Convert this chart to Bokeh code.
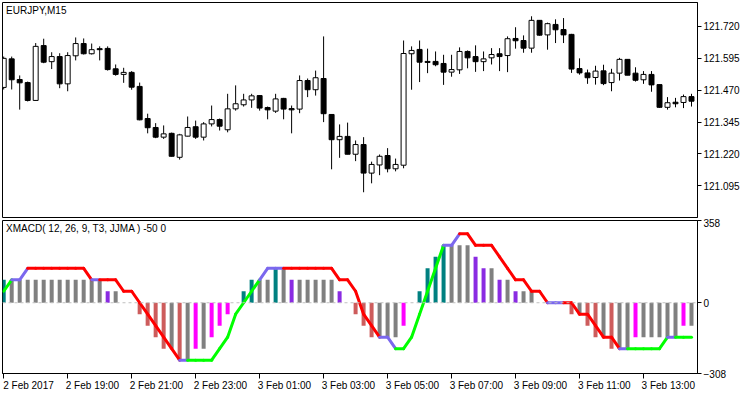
from bokeh.plotting import figure
from bokeh.models import (Range1d, FixedTicker, Label, Span, ColumnDataSource,
                          PrintfTickFormatter, LinearAxis)
from bokeh.layouts import column
from bokeh.embed import file_html
from bokeh.resources import INLINE

symbol = "EURJPY,M15"
indicator = "XMACD( 12, 26, 9, T3, JJMA ) -50 0"

open_ = [121.481, 121.593, 121.512, 121.500, 121.430, 121.645, 121.582, 121.602, 121.495, 121.605,
         121.653, 121.613, 121.633, 121.634, 121.554, 121.532, 121.540, 121.485, 121.359, 121.324,
         121.286, 121.301, 121.207, 121.290, 121.327, 121.286, 121.338, 121.355, 121.315, 121.397,
         121.413, 121.432, 121.449, 121.402, 121.388, 121.438, 121.398, 121.396, 121.508, 121.472,
         121.516, 121.375, 121.276, 121.289, 121.219, 121.257, 121.145, 121.177, 121.214, 121.162,
         121.176, 121.613, 121.630, 121.583, 121.583, 121.575, 121.541, 121.550, 121.622, 121.602,
         121.582, 121.597, 121.613, 121.606, 121.673, 121.665, 121.635, 121.744, 121.687, 121.728,
         121.708, 121.689, 121.555, 121.538, 121.520, 121.546, 121.500, 121.537, 121.591, 121.537,
         121.511, 121.532, 121.492, 121.403, 121.423, 121.422, 121.445]
high = [121.602, 121.602, 121.528, 121.504, 121.655, 121.672, 121.619, 121.615, 121.619, 121.677,
        121.673, 121.653, 121.642, 121.642, 121.571, 121.558, 121.545, 121.500, 121.378, 121.341,
        121.332, 121.304, 121.299, 121.367, 121.351, 121.345, 121.410, 121.359, 121.456, 121.489,
        121.456, 121.456, 121.451, 121.406, 121.456, 121.440, 121.410, 121.528, 121.516, 121.547,
        121.681, 121.375, 121.336, 121.343, 121.273, 121.286, 121.190, 121.218, 121.243, 121.202,
        121.665, 121.642, 121.665, 121.633, 121.622, 121.609, 121.609, 121.638, 121.626, 121.646,
        121.622, 121.635, 121.635, 121.681, 121.717, 121.685, 121.760, 121.744, 121.735, 121.748,
        121.753, 121.691, 121.595, 121.551, 121.566, 121.570, 121.554, 121.597, 121.591, 121.560,
        121.545, 121.545, 121.492, 121.443, 121.440, 121.453, 121.456]
low = [121.473, 121.473, 121.394, 121.426, 121.428, 121.576, 121.553, 121.478, 121.466, 121.587,
       121.610, 121.610, 121.587, 121.547, 121.527, 121.499, 121.472, 121.352, 121.301, 121.282,
       121.279, 121.210, 121.198, 121.289, 121.279, 121.273, 121.328, 121.312, 121.305, 121.390,
       121.406, 121.401, 121.390, 121.356, 121.381, 121.356, 121.301, 121.380, 121.443, 121.449,
       121.345, 121.160, 121.205, 121.219, 121.192, 121.070, 121.105, 121.137, 121.148, 121.152,
       121.164, 121.472, 121.502, 121.537, 121.564, 121.491, 121.523, 121.534, 121.556, 121.542,
       121.545, 121.571, 121.545, 121.541, 121.633, 121.617, 121.617, 121.684, 121.629, 121.655,
       121.655, 121.538, 121.531, 121.495, 121.492, 121.490, 121.466, 121.508, 121.529, 121.504,
       121.495, 121.464, 121.401, 121.394, 121.403, 121.400, 121.406]
close = [121.595, 121.511, 121.499, 121.430, 121.642, 121.580, 121.602, 121.495, 121.606, 121.653,
         121.613, 121.629, 121.629, 121.551, 121.532, 121.540, 121.482, 121.354, 121.323, 121.286,
         121.299, 121.211, 121.295, 121.324, 121.286, 121.338, 121.355, 121.329, 121.397, 121.417,
         121.432, 121.448, 121.400, 121.393, 121.436, 121.396, 121.393, 121.508, 121.472, 121.519,
         121.378, 121.276, 121.289, 121.219, 121.257, 121.145, 121.179, 121.211, 121.162, 121.179,
         121.614, 121.626, 121.580, 121.579, 121.570, 121.541, 121.551, 121.622, 121.597, 121.582,
         121.593, 121.610, 121.602, 121.672, 121.664, 121.635, 121.744, 121.686, 121.731, 121.707,
         121.687, 121.553, 121.538, 121.519, 121.545, 121.496, 121.537, 121.591, 121.529, 121.509,
         121.532, 121.491, 121.403, 121.421, 121.417, 121.445, 121.427]

hist = [100, 100, 100, 100, 100, 100, 100, 100, 100, 100,
        100, 100, 100, 50, 50, 0, 0, -50, -100, -150,
        -200, -200, -250, -250, -200, -200, -150, -100, -50, 0,
        50, 100, 100, 100, 150, 150, 100, 100, 100, 100,
        100, 100, 50, 0, -50, -100, -150, -150, -150, -150,
        -100, 0, 50, 150, 200, 250, 250, 250, 250, 200,
        150, 150, 100, 100, 50, 50, 50, 0, 0, 0,
        0, -50, -50, -100, -150, -150, -200, -200, -200, -150,
        -150, -150, -150, -150, -150, -100, -100]
signal = [50, 100, 100, 150, 150, 150, 150, 150, 150, 150,
          150, 100, 100, 100, 100, 50, 50, 0, -50, -100,
          -150, -200, -250, -250, -250, -250, -250, -200, -150, -50,
          0, 50, 100, 150, 150, 150, 150, 150, 150, 150,
          150, 150, 100, 100, 50, -50, -100, -150, -150, -200,
          -200, -150, -50, 50, 150, 250, 250, 300, 300, 250,
          250, 250, 200, 150, 100, 100, 50, 50, 0, 0,
          0, 0, -50, -50, -100, -150, -150, -200, -200, -200,
          -200, -200, -200, -150, -150, -150, -150]
# state of each signal segment (bar i-1 -> bar i): u = up, d = down, n = neutral
signal_state = list("unn" "dddddddd" "n" "dddddddddd" "n" "uuuuuuuuu" "nnn" "dddddddddddd"
                    "nn" "uuuuuu" "nn" "ddddddddddd" "nn" "ddddddd" "n" "uuuuu" "n" "uu")

time_ticks = [0, 8, 16, 24, 32, 40, 48, 56, 64, 72, 80]
time_labels = ["2 Feb 2017", "2 Feb 19:00", "2 Feb 21:00", "2 Feb 23:00", "3 Feb 01:00",
               "3 Feb 03:00", "3 Feb 05:00", "3 Feb 07:00", "3 Feb 09:00", "3 Feb 11:00",
               "3 Feb 13:00"]
price_ticks = [121.095, 121.220, 121.345, 121.470, 121.595, 121.720]
osc_ticks = [-308, 0, 358]

FONT = "Liberation Sans"
FS = "10px"
W = 750
X0, X1 = -0.15, 86.75
LABEL_SHIFT = 3.1  # half a time label, in bars: labels start at their tick

n = len(open_)
idx = list(range(n))

x_range = Range1d(X0, X1)


def style_axis(ax):
    ax.axis_line_color = "black"
    ax.major_tick_line_color = "black"
    ax.major_tick_in = 0
    ax.major_tick_out = 4
    ax.minor_tick_in = 0
    ax.minor_tick_out = 0
    ax.major_label_text_font = FONT
    ax.major_label_text_font_size = FS
    ax.major_label_text_color = "black"
    ax.major_label_standoff = 2


# ---------------- price panel ----------------
p1 = figure(width=W, height=218, x_range=x_range, y_range=Range1d(120.971, 121.814),
            output_backend="svg", toolbar_location=None, y_axis_location="right",
            x_axis_location=None, min_border_left=2, min_border_right=53,
            min_border_top=2, min_border_bottom=1)
p1.grid.visible = False
p1.outline_line_color = "black"
p1.outline_line_alpha = 1
style_axis(p1.yaxis[0])
p1.yaxis.ticker = FixedTicker(ticks=price_ticks)
p1.yaxis.formatter = PrintfTickFormatter(format="%.3f")

csrc = ColumnDataSource(dict(
    x=idx, h=high, l=low,
    top=[max(o, c) for o, c in zip(open_, close)],
    bot=[min(o, c) for o, c in zip(open_, close)],
    fill=["white" if c >= o else "black" for o, c in zip(open_, close)],
))
p1.segment(x0="x", y0="l", x1="x", y1="h", source=csrc, line_color="black", line_width=1)
p1.vbar(x="x", width=0.62, top="top", bottom="bot", source=csrc,
        fill_color="fill", line_color="black", line_width=1)
p1.add_layout(Label(x=0.3, y=121.806, text=symbol, text_font=FONT, text_font_size=FS,
                    text_color="black", text_baseline="top"))

# ---------------- oscillator panel ----------------
p2 = figure(width=W, height=176, x_range=x_range, y_range=Range1d(-308, 358),
            output_backend="svg", toolbar_location=None, y_axis_location="right",
            x_axis_location="below", min_border_left=2, min_border_right=53,
            min_border_top=2, min_border_bottom=21)
p2.grid.visible = False
p2.outline_line_color = "black"
p2.outline_line_alpha = 1
style_axis(p2.yaxis[0])
p2.yaxis.ticker = FixedTicker(ticks=osc_ticks)

# tick marks only on the main time axis (its own labels are not painted)
xa = p2.xaxis[0]
style_axis(xa)
xa.major_tick_out = 5
xa.ticker = FixedTicker(ticks=time_ticks)
xa.major_label_text_font_size = "0px"
xa.major_label_text_color = None
xa.major_label_text_alpha = 0
xa.major_label_standoff = 0

# labels on a shifted axis so that each starts at its tick
p2.extra_x_ranges = {"lbl": Range1d(X0 - LABEL_SHIFT, X1 - LABEL_SHIFT)}
la = LinearAxis(x_range_name="lbl", ticker=FixedTicker(ticks=time_ticks),
                major_label_overrides={t: s for t, s in zip(time_ticks, time_labels)})
style_axis(la)
la.axis_line_color = None
la.major_tick_out = 0
la.major_label_standoff = 1
p2.add_layout(la, "below")


def hist_color(i):
    v = hist[i]
    prev = hist[i - 1] if i > 0 else None
    if v > 0:
        if prev is None or v > prev:
            return "#008080"
        return "#808080" if v == prev else "#8A2BE2"
    if prev is None or v < prev:
        return "#CD5C5C"
    return "#808080" if v == prev else "#FF00FF"


hsrc = ColumnDataSource(dict(
    x=[i for i in idx if hist[i] != 0],
    top=[hist[i] for i in idx if hist[i] != 0],
    color=[hist_color(i) for i in idx if hist[i] != 0],
))
p2.vbar(x="x", width=0.5, top="top", bottom=0, source=hsrc, fill_color="color", line_color=None)

state_color = {"u": "#00FF00", "d": "#FF0000", "n": "#7B68EE"}
ssrc = ColumnDataSource(dict(
    x0=idx[:-1], y0=signal[:-1], x1=idx[1:], y1=signal[1:],
    color=[state_color[s] for s in signal_state],
))
p2.segment(x0="x0", y0="y0", x1="x1", y1="y1", source=ssrc, line_color="color",
           line_width=3, line_cap="round")

p2.add_layout(Span(location=0, dimension="width", line_color="#C0C0C0",
                   line_dash="3 3", line_width=1))
p2.add_layout(Label(x=0.3, y=345, text=indicator, text_font=FONT, text_font_size=FS,
                    text_color="black", text_baseline="top"))

layout = column(p1, p2, spacing=0)
open("out.html", "w").write(file_html(layout, INLINE))
